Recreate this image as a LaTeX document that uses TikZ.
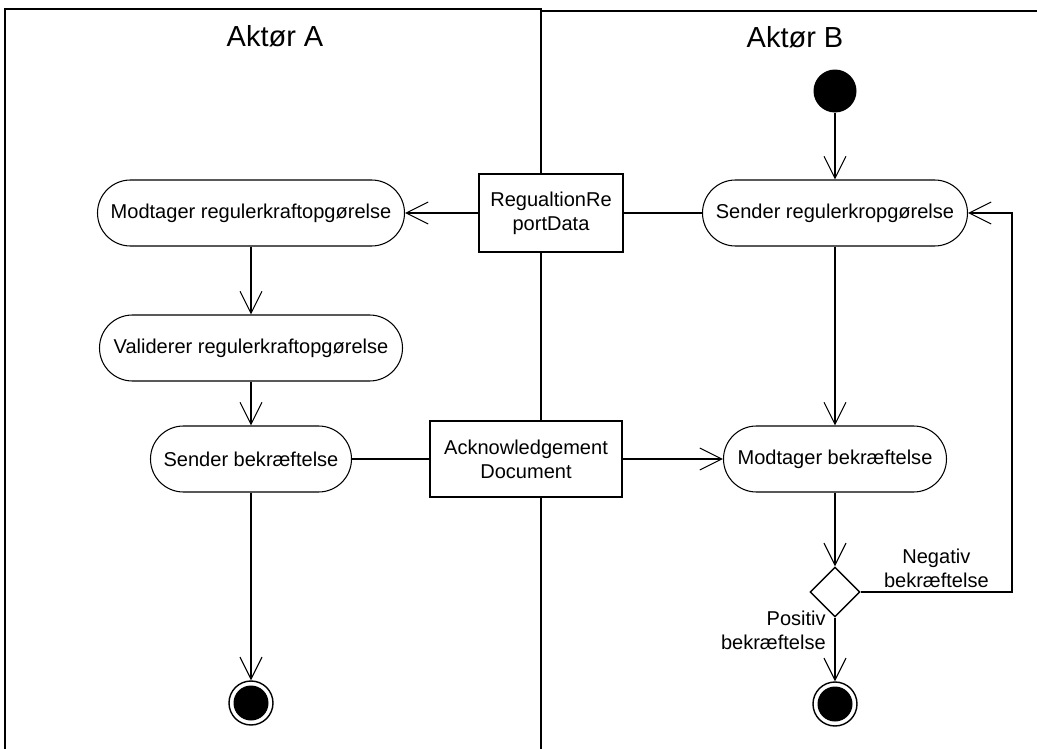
\documentclass[tikz,border=0pt]{standalone}
\usepackage{fontspec}
\setmainfont{Liberation Sans}
\usetikzlibrary{arrows.meta,shapes.geometric}

\tikzset{
  lane/.style={line width=1.1pt},
  activity/.style={draw, fill=white, line width=0.6pt, rounded corners=0.66cm, minimum height=1.32cm, inner sep=0pt},
  objbox/.style={draw, fill=white, line width=1pt, align=center, inner sep=0pt},
  flow/.style={line width=0.6pt, -{Straight Barb[length=0.44cm,width=0.44cm]}},
  link/.style={line width=0.6pt},
  initial/.style={circle, fill, minimum size=0.86cm, inner sep=0pt},
  final/.style={circle, draw, line width=0.8pt, minimum size=0.88cm, inner sep=0pt,
    path picture={\fill (path picture bounding box.center) circle (0.35cm);}},
  choice/.style={diamond, draw, line width=0.8pt, minimum size=1cm, inner sep=0pt}
}

\begin{document}
\begin{tikzpicture}[font=\fontsize{11.4}{13.7}\selectfont]

\path[use as bounding box] (0,0) rectangle (20.74,-14.98);
\clip (0,0) rectangle (20.74,-14.98);

% swimlanes
\draw[lane] (0.10,-15.5) |- (10.82,-0.18) -- (10.82,-15.5);
\draw[lane] (10.82,-0.22) -- (21.0,-0.22);
\node[font=\fontsize{16.5}{19}\selectfont] (laneA) at (5.50,-0.72) {Aktør A};
\node[font=\fontsize{16.5}{19}\selectfont] (laneB) at (15.90,-0.75) {Aktør B};

% Aktør A
\node[activity, minimum width=6.14cm] (A1) at (5.02,-4.26) {Modtager regulerkraftopgørelse};
\node[activity, minimum width=6.06cm] (A2) at (5.02,-6.96) {Validerer regulerkraftopgørelse};
\node[activity, minimum width=4.02cm] (A3) at (5.02,-9.18) {Sender bekræftelse};
\node[final] (endA) at (5.02,-14.06) {};

% Aktør B
\node[initial] (start) at (16.70,-1.82) {};
\node[activity, minimum width=5.30cm] (B1) at (16.70,-4.26) {Sender regulerkropgørelse};
\node[activity, minimum width=4.46cm] (B2) at (16.70,-9.18) {Modtager bekræftelse};
\node[choice] (dec) at (16.70,-11.84) {};
\node[final] (endB) at (16.70,-14.08) {};
\coordinate (back) at (20.24,-4.26);

% objects on the border
\node[objbox, minimum width=2.88cm, minimum height=1.56cm] (report) at (11.02,-4.26) {RegualtionRe\\portData};
\node[objbox, minimum width=3.84cm, minimum height=1.52cm] (ack) at (10.52,-9.18) {Acknowledgement\\Document};

\draw[flow] (start) -- (B1);
\draw[link] (B1) -- (report);
\draw[flow] (report) -- (A1);
\draw[flow] (A1) -- (A2);
\draw[flow] (A2) -- (A3);
\draw[link] (A3) -- (ack);
\draw[flow] (ack) -- (B2);
\draw[flow] (A3) -- (endA);
\draw[flow] (B1) -- (B2);
\draw[flow] (B2) -- (dec);
\draw[flow] (dec) -- node[pos=0.2, left, align=right, inner sep=5pt] {Positiv\\bekræftelse} (endB);
\draw[flow] (dec.east) -| node[pos=0.25, above, align=center, inner sep=2pt] {Negativ\\bekræftelse} (back) -- (B1.east);
%
\end{tikzpicture}
\end{document}
